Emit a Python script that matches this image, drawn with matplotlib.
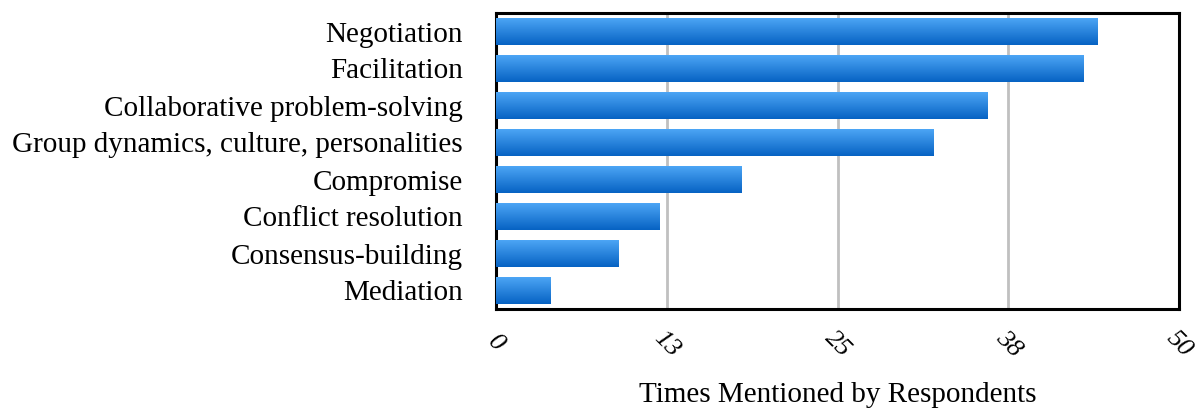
import matplotlib
matplotlib.use("Agg")
import matplotlib.pyplot as plt
import numpy as np
from matplotlib.colors import LinearSegmentedColormap
from matplotlib.transforms import ScaledTranslation

categories = ["Negotiation", "Facilitation", "Collaborative problem-solving",
              "Group dynamics, culture, personalities", "Compromise",
              "Conflict resolution", "Consensus-building", "Mediation"]
values = [44, 43, 36, 32, 18, 12, 9, 4]
xticks = [0, 12.5, 25, 37.5, 50]
xtick_labels = ["0", "13", "25", "38", "50"]
xlabel = "Times Mentioned by Respondents"

plt.rcParams['font.family'] = ['Liberation Serif', 'DejaVu Serif']

fig = plt.figure(figsize=(11.95, 4.12), dpi=100)
ax = fig.add_axes([496/1195, 1 - 309/412, (1179-496)/1195, (309-13)/412])

y = np.arange(len(categories))
bars = ax.barh(y, values, height=0.73, color="#2a80dc", zorder=2)

cmap = LinearSegmentedColormap.from_list("g", ["#4fa8f7", "#0662c3"])
grad = np.linspace(0, 1, 256).reshape(-1, 1)
for b in bars:
    x0, y0 = b.get_x(), b.get_y()
    w, h = b.get_width(), b.get_height()
    im = ax.imshow(grad, cmap=cmap, aspect="auto", origin="upper",
                   extent=(x0, x0 + w, y0 + h, y0), zorder=3)
    im.set_clip_path(b)
    b.set_alpha(0)

ax.set_xlim(0, 50)
ax.set_ylim(len(categories) - 0.5, -0.5)
ax.set_yticks(y)
ax.set_yticklabels(categories, fontsize=21)
ax.set_xticks(xticks)
ax.set_xticklabels(xtick_labels, fontsize=19, style="italic", rotation=-45,
                   rotation_mode="anchor", ha="center", va="center")
for lbl in ax.get_xticklabels():
    lbl.set_transform(lbl.get_transform() + ScaledTranslation(-2/72, 0, fig.dpi_scale_trans))
ax.tick_params(axis="x", length=0, pad=25)
ax.tick_params(axis="y", length=0, pad=24)
ax.grid(axis="x", color="#c0c0c0", linewidth=2, zorder=1)
ax.set_axisbelow(True)
for s in ax.spines.values():
    s.set_linewidth(2.2)
    s.set_color("black")
ax.set_xlabel(xlabel, fontsize=21, va="center")
ax.xaxis.set_label_coords(0.5, -0.29)

fig.savefig("out.png", dpi=100)
